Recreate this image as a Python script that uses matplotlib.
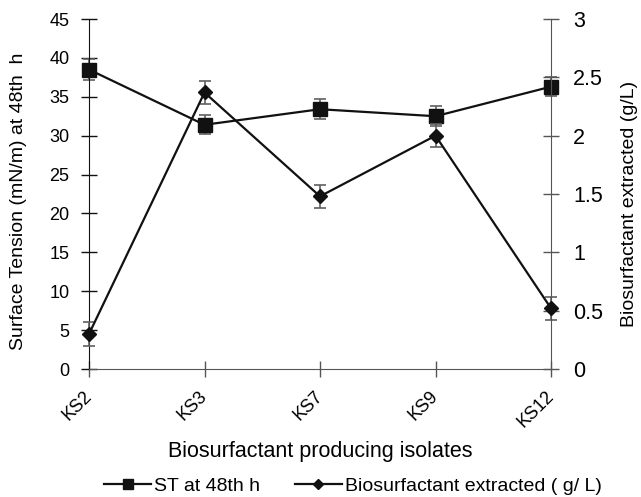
import matplotlib
matplotlib.use("Agg")
import matplotlib.pyplot as plt
from matplotlib.lines import Line2D
from matplotlib.transforms import ScaledTranslation

plt.rcParams['font.family'] = ['Liberation Sans', 'DejaVu Sans']

categories = ["KS2", "KS3", "KS7", "KS9", "KS12"]
st_values = [38.5, 31.4, 33.4, 32.5, 36.3]
st_errors = [1.4, 1.2, 1.3, 1.3, 1.2]
bio_values = [0.30, 2.37, 1.48, 2.00, 0.52]
bio_errors = [0.10, 0.10, 0.10, 0.10, 0.10]
left_ticks = [0, 5, 10, 15, 20, 25, 30, 35, 40, 45]
right_ticks = [0, 0.5, 1, 1.5, 2, 2.5, 3]
right_ticklabels = ["0", "0.5", "1", "1.5", "2", "2.5", "3"]

W, H = 641, 497
fig = plt.figure(figsize=(W/100, H/100), dpi=100)
L, R, T, B = 89, 551, 19, 369
ax = fig.add_axes([L/W, 1-B/H, (R-L)/W, (B-T)/H])
ax2 = ax.twinx()

x = list(range(len(categories)))
ecol = '#606060'
ax.errorbar(x, st_values, yerr=st_errors, fmt='none', ecolor=ecol, elinewidth=1.2,
            capsize=4.5, capthick=1.2, zorder=2, clip_on=False)
ax.plot(x, st_values, color='#111111', lw=1.6, marker='s', ms=9.5, zorder=3, clip_on=False)

ax2.errorbar(x, bio_values, yerr=bio_errors, fmt='none', ecolor=ecol, elinewidth=1.2,
             capsize=4.5, capthick=1.2, zorder=2, clip_on=False)
ax2.plot(x, bio_values, color='#111111', lw=1.6, marker='D', ms=7, zorder=3, clip_on=False)

ax.set_xlim(0, 4)
ax.set_ylim(0, 45)
ax2.set_ylim(0, 3)
ax.set_yticks(left_ticks)
ax2.set_yticks(right_ticks)
ax2.set_yticklabels(right_ticklabels)
ax.set_xticks(x)
ax.set_xticklabels(categories, rotation=45, ha='right', va='center',
                   rotation_mode='anchor', fontsize=13)
off = ScaledTranslation(-3/100, 0, fig.dpi_scale_trans)
for lab in ax.get_xticklabels():
    lab.set_transform(lab.get_transform() + off)

for a in (ax, ax2):
    a.spines['top'].set_visible(False)
ax.spines['left'].set_color('#111111')
ax.spines['right'].set_visible(False)
ax.spines['bottom'].set_color('#555555')
ax2.spines['left'].set_visible(False)
ax2.spines['bottom'].set_visible(False)
ax2.spines['right'].set_color('#555555')

ax.tick_params(axis='y', direction='inout', length=12, width=1, labelsize=13, pad=8, color='#111111')
ax.tick_params(axis='x', direction='inout', length=12, width=1, pad=12, color='#555555')
ax2.tick_params(axis='y', direction='inout', length=12, width=1, labelsize=15.5, pad=10, color='#555555')

ax.set_ylabel("Surface Tension (mN/m) at 48th  h", fontsize=14, va='center')
ax.yaxis.set_label_coords((18.5-L)/(R-L), (B-201)/(B-T))
ax2.set_ylabel("Biosurfactant extracted (g/L)", fontsize=14, va='center', rotation=90)
ax2.yaxis.set_label_coords((630-L)/(R-L), (B-204)/(B-T))
ax.set_xlabel("Biosurfactant producing isolates", fontsize=15.5, va='center')
ax.xaxis.set_label_coords(0.5, (B-451)/(B-T))

handles = [Line2D([0], [0], color='#111111', lw=1.6, marker='s', ms=7),
           Line2D([0], [0], color='#111111', lw=1.6, marker='D', ms=5)]
fig.legend(handles, ["ST at 48th h", "Biosurfactant extracted ( g/ L)"],
           loc='center', bbox_to_anchor=(353/W, 1-486/H), ncol=2, frameon=False,
           fontsize=14, handlelength=2.4, columnspacing=1.8, handletextpad=0.15,
           borderpad=0, borderaxespad=0)

fig.savefig("out.png", dpi=100)
